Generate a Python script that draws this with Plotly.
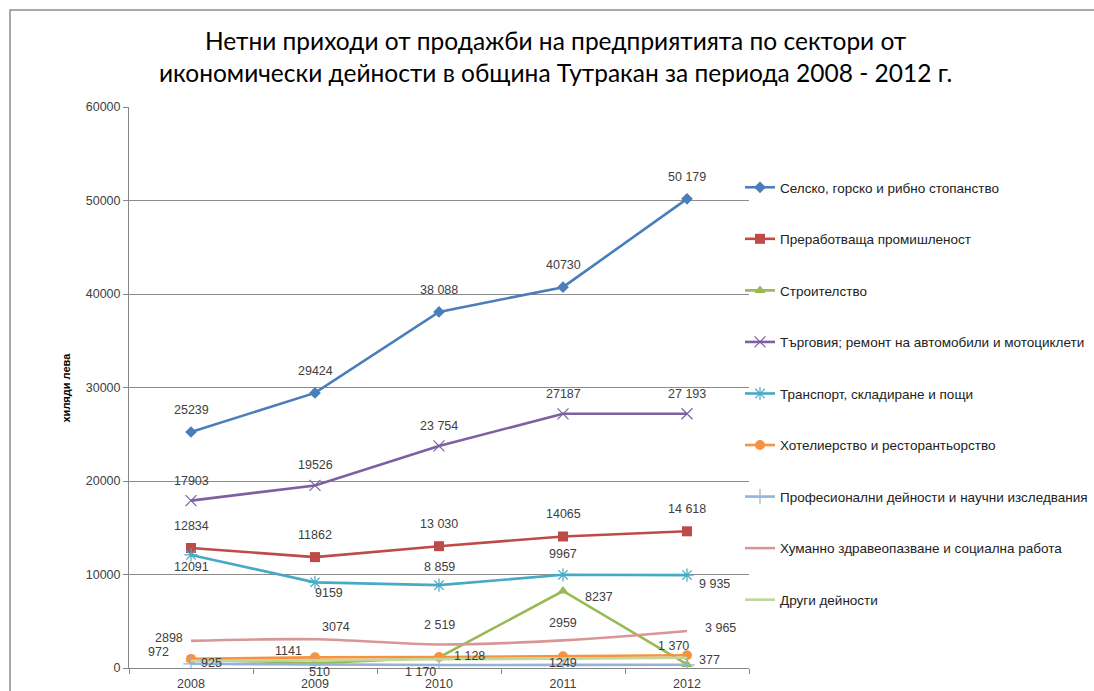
import plotly.graph_objects as go

years = ["2008", "2009", "2010", "2011", "2012"]

names = [
    "Селско, горско и рибно стопанство",
    "Преработваща промишленост",
    "Строителство",
    "Търговия; ремонт на автомобили и мотоциклети",
    "Транспорт, складиране и пощи",
    "Хотелиерство и ресторантьорство",
    "Професионални дейности и научни изследвания",
    "Хуманно здравеопазване и социална работа",
    "Други дейности",
]

agri = [25239, 29424, 38088, 40730, 50179]
manuf = [12834, 11862, 13030, 14065, 14618]
constr = [925, 510, 1128, 8237, 377]
trade = [17903, 19526, 23754, 27187, 27193]
transport = [12091, 9159, 8859, 9967, 9935]
hotels = [972, 1141, 1170, 1249, 1370]
prof = [450, 350, 320, 330, 340]
health = [2898, 3074, 2519, 2959, 3965]
other = [780, 820, 950, 1000, 1100]

agri_lbl = ["25239", "29424", "38 088", "40730", "50 179"]
manuf_lbl = ["12834", "11862", "13 030", "14065", "14 618"]
constr_lbl = ["925", "510", "1 128", "8237", "377"]
trade_lbl = ["17903", "19526", "23 754", "27187", "27 193"]
transport_lbl = ["12091", "9159", "8 859", "9967", "9 935"]
hotels_lbl = ["972", "1141", "1 170", "1249", "1 370"]
health_lbl = ["2898", "3074", "2 519", "2959", "3 965"]

colors = ["#4A7EBB", "#BE4B48", "#98B954", "#7D60A0", "#46AAC5",
          "#F69240", "#95B3D7", "#D99694", "#C3D69B"]

series = [agri, manuf, constr, trade, transport, hotels, prof, health, other]
markers = [
    dict(symbol="diamond", size=9),
    dict(symbol="square", size=10),
    dict(symbol="triangle-up", size=10),
    dict(symbol="x-thin-open", size=11, line=dict(width=1)),
    dict(symbol="asterisk-open", size=11, line=dict(width=1)),
    dict(symbol="circle", size=10),
    dict(symbol="cross-thin-open", size=11, line=dict(width=1)),
    None,
    None,
]
shapes_line = ["linear"] * 7 + ["spline", "spline"]

fig = go.Figure()
for i, (nm, ys) in enumerate(zip(names, series)):
    mk = markers[i]
    if mk is not None:
        mk = dict(mk)
        mk["color"] = colors[i]
        if "line" in mk:
            mk["line"] = dict(width=1.2, color=colors[i])
        mode = "lines+markers"
    else:
        mode = "lines"
    fig.add_trace(go.Scatter(
        x=years, y=ys, name=nm, mode=mode,
        line=dict(color=colors[i], width=2.6, shape=shapes_line[i]),
        marker=mk if mk else None,
        legendgroup="g%d" % i,
        hoverinfo="skip",
    ))

# label offsets (xshift, yshift) in pixels
label_sets = [
    (agri, agri_lbl, [(0, 22)] * 5),
    (trade, trade_lbl, [(0, 20)] * 5),
    (manuf, manuf_lbl, [(0, 22)] * 5),
    (transport, transport_lbl, [(0, -12), (14, -11), (0, 18), (0, 21), (27, -9)]),
    (constr, constr_lbl, [(20, -4), (4, -9), (30, 1), (36, -6), (22, 4)]),
    (hotels, hotels_lbl, [(-33, 7), (-27, 6), (-19, -15), (0, -7), (-14, 9)]),
    (health, health_lbl, [(-22, 3), (21, 12), (0, 19), (0, 17), (33, 3)]),
]

annotations = []
for ys, lbls, offs in label_sets:
    for xi, (y, t, (dx, dy)) in enumerate(zip(ys, lbls, offs)):
        annotations.append(dict(
            x=xi, y=y, xref="x", yref="y", text=t, showarrow=False,
            xshift=dx, yshift=dy,
            font=dict(family="Liberation Sans, Arial", size=12.5, color="#404040"),
        ))

# title
annotations.append(dict(
    x=(555 - 129) / 620, y=(668 - 56) / 561, xref="paper", yref="paper",
    text="Нетни приходи от продажби на предприятията по сектори от<br>"
         "икономически дейности в община Тутракан за периода 2008 - 2012 г.",
    showarrow=False, xanchor="center", yanchor="middle",
    font=dict(family="Lato, Open Sans, sans-serif", size=24.5, color="#000000"),
    align="center",
))
# y axis title
annotations.append(dict(
    x=(65 - 129) / 620, y=0.5, xref="paper", yref="paper",
    text="<b>хиляди лева</b>", textangle=-90, showarrow=False,
    xanchor="center", yanchor="middle",
    font=dict(family="Liberation Sans, Arial", size=11, color="#000000"),
))

fig.update_layout(
    width=1094, height=691,
    margin=dict(l=129, r=345, t=107, b=23, autoexpand=False),
    paper_bgcolor="white", plot_bgcolor="white",
    showlegend=True,
    legend=dict(
        x=(740 - 129) / 620, y=(668 - 172) / 561, xanchor="left", yanchor="top",
        font=dict(family="Liberation Sans, Arial", size=13.5, color="#222222"),
        tracegroupgap=31, bgcolor="rgba(0,0,0,0)",
    ),
    annotations=annotations,
    shapes=[dict(
        type="rect", xref="paper", yref="paper",
        x0=(10 - 129) / 620, x1=(1110 - 129) / 620,
        y0=(668 - 10) / 561, y1=(668 - 720) / 561,
        line=dict(color="#8C8C8C", width=1.5), fillcolor="rgba(0,0,0,0)",
        layer="below",
    )],
    xaxis=dict(
        type="category", showgrid=False, showline=True, linecolor="#868686",
        linewidth=1, ticks="outside", tickson="boundaries", ticklen=5,
        tickcolor="#868686", automargin=False, ticklabelstandoff=4,
        tickfont=dict(family="Liberation Sans, Arial", size=12.5, color="#404040"),
        range=[-0.5, 4.5], fixedrange=True,
    ),
    yaxis=dict(
        range=[0, 60000], tickvals=[0, 10000, 20000, 30000, 40000, 50000, 60000],
        ticktext=["0", "10000", "20000", "30000", "40000", "50000", "60000"],
        showgrid=True, gridcolor="#8C8C8C", gridwidth=1,
        showline=True, linecolor="#868686", linewidth=1,
        ticks="outside", ticklen=5, tickcolor="#868686", automargin=False,
        tickfont=dict(family="Liberation Sans, Arial", size=12.5, color="#404040"),
        zeroline=False, fixedrange=True,
    ),
)

fig.write_html("out.html", config={"displayModeBar": False},
               post_script="document.body.style.margin='0';")
